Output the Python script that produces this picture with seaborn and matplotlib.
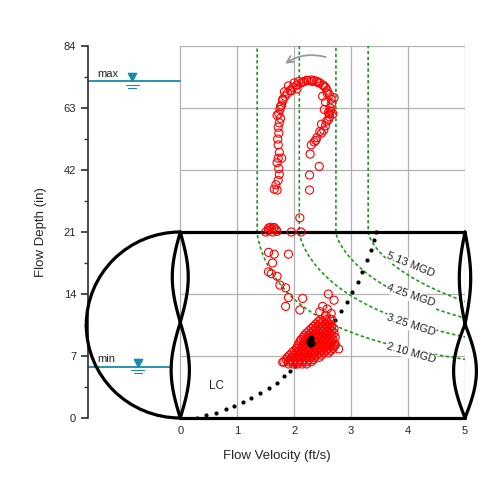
import numpy as np
import pandas as pd
import matplotlib
matplotlib.use("Agg")
import matplotlib.pyplot as plt
import seaborn as sns
from matplotlib.patches import Arc

sns.set_theme(style="white")
plt.rcParams["font.family"] = ["Liberation Sans", "DejaVu Sans"]

# ---- data (velocity ft/s, depth in) ----
hook_v = [1.70, 1.68, 1.72, 1.74, 1.73, 1.70, 1.72, 1.74, 1.72, 1.71, 1.73, 1.72, 1.74, 1.76, 1.73,
          1.75, 1.78, 1.80, 1.84, 1.88, 1.93, 1.98, 2.05, 2.12, 2.18, 2.25, 2.30, 2.35, 2.40, 2.45,
          2.50, 2.55, 2.58, 2.62, 2.65, 2.66, 2.63, 2.60, 2.62, 2.57, 2.55, 2.60, 2.52, 2.48, 2.40,
          2.35, 2.30, 2.28, 2.27, 2.44, 2.27, 2.10, 1.70, 1.76, 1.80, 1.83, 1.90, 2.00, 2.08, 2.15,
          2.22, 2.32, 2.42, 2.52, 2.58, 2.64, 2.55, 2.50, 2.62, 2.45, 2.38, 2.53, 1.65, 1.78, 2.70,
          2.68, 2.48, 1.95, 2.05]
hook_d = [35.2, 37.0, 38.5, 40.5, 42.5, 44.5, 46.0, 48.0, 50.5, 52.5, 54.5, 56.5, 58.0, 59.5, 61.0,
          62.5, 64.0, 65.5, 67.0, 68.0, 69.0, 70.0, 70.8, 71.5, 72.0, 72.3, 72.5, 72.3, 72.0, 71.5,
          70.8, 70.0, 69.0, 67.5, 66.0, 64.5, 63.0, 61.5, 60.0, 58.5, 57.0, 59.0, 55.5, 54.5, 53.0,
          51.5, 50.5, 47.4, 40.3, 43.2, 35.2, 25.8, 60.5, 63.5, 66.0, 68.5, 70.5, 71.5, 72.0, 71.8,
          72.4, 72.0, 71.6, 70.5, 68.0, 62.0, 65.0, 67.0, 61.0, 55.0, 52.0, 62.5, 35.5, 46.0, 66.5,
          61.0, 57.5, 68.8, 69.5]
low_v = [1.50, 1.55, 1.60, 1.65, 1.70, 1.55, 1.62, 1.68, 1.58, 1.64, 1.95, 2.12, 1.55, 1.65, 1.62,
         1.60, 1.55, 1.70, 1.75, 1.85, 1.90, 1.85, 2.15, 2.10, 1.90, 2.60, 2.70, 2.58, 2.65, 2.45,
         2.62, 2.55, 1.80, 2.78, 2.72, 2.50]
low_d = [21.0, 21.5, 22.0, 22.5, 21.2, 22.3, 21.0, 21.8, 22.6, 22.4, 21.0, 21.0, 18.7, 18.5, 17.5,
         16.3, 16.5, 16.0, 15.0, 14.7, 13.6, 12.6, 13.5, 12.2, 18.5, 14.0, 13.3, 12.3, 11.8, 12.0,
         11.2, 11.6, 6.3, 7.8, 8.2, 12.6]
cluster_rows = {
    6.1: [1.90, 1.98, 2.06, 2.14, 2.22],
    6.35: [1.82, 1.90, 1.98, 2.06, 2.14, 2.22, 2.30],
    6.6: [1.86, 1.94, 2.02, 2.10, 2.18, 2.26, 2.34],
    6.85: [1.88, 1.96, 2.04, 2.12, 2.20, 2.28, 2.36, 2.44],
    7.1: [1.92, 2.00, 2.08, 2.16, 2.24, 2.32, 2.40, 2.48],
    7.35: [1.96, 2.04, 2.12, 2.20, 2.28, 2.36, 2.44, 2.52, 2.60],
    7.6: [2.00, 2.08, 2.16, 2.24, 2.32, 2.40, 2.48, 2.56, 2.64],
    7.85: [2.04, 2.12, 2.20, 2.28, 2.36, 2.44, 2.52, 2.60, 2.68],
    8.1: [2.06, 2.14, 2.22, 2.30, 2.38, 2.46, 2.54, 2.62, 2.70],
    8.35: [2.08, 2.16, 2.24, 2.32, 2.40, 2.48, 2.56, 2.64, 2.72],
    8.6: [2.10, 2.18, 2.26, 2.34, 2.42, 2.50, 2.58, 2.66],
    8.85: [2.12, 2.20, 2.28, 2.36, 2.44, 2.52, 2.60, 2.68],
    9.1: [2.16, 2.24, 2.32, 2.40, 2.48, 2.56, 2.64, 2.72],
    9.35: [2.18, 2.26, 2.34, 2.42, 2.50, 2.58, 2.66],
    9.6: [2.22, 2.30, 2.38, 2.46, 2.54, 2.62, 2.70],
    9.85: [2.26, 2.34, 2.42, 2.50, 2.58, 2.66],
    10.1: [2.30, 2.38, 2.46, 2.54, 2.62, 2.70],
    10.35: [2.34, 2.42, 2.50, 2.58, 2.66],
    10.6: [2.38, 2.46, 2.54, 2.62],
    10.85: [2.42, 2.50, 2.58],
    11.1: [2.46, 2.56, 2.66],
}
mean_v = [2.28, 2.32, 2.30, 2.26]
mean_d = [8.3, 8.5, 9.0, 8.7]
lc_v = [0.30, 0.45, 0.62, 0.80, 0.95, 1.10, 1.25, 1.40, 1.55, 1.70, 1.82, 1.92, 2.02, 2.12,
        2.22, 2.32, 2.42, 2.52, 2.62, 2.72, 2.82, 2.92, 3.02, 3.12, 3.20, 3.28, 3.35, 3.40, 3.44]
lc_d = [0.0, 0.3, 0.6, 1.0, 1.4, 1.8, 2.3, 2.8, 3.4, 4.0, 4.7, 5.3, 5.9, 6.5,
        7.2, 7.9, 8.6, 9.4, 10.2, 11.1, 12.1, 13.1, 14.2, 15.3, 16.5, 17.8, 19.0, 20.1, 21.0]
mgd = [2.10, 3.25, 4.25, 5.13]
label_pos = [(4.05, 7.3, -16), (4.05, 10.5, -18), (4.05, 13.8, -19), (4.05, 17.3, -22)]
pipe_d_in = 21.0
y_ticks = [0, 7, 14, 21, 42, 63, 84]
x_ticks = [0, 1, 2, 3, 4, 5]
max_level, min_level = 72.0, 5.8


def ty(d):
    d = np.asarray(d, dtype=float)
    return np.where(d <= 21, d, 21 + (d - 21) / 3.0)


def lens(ax, xc, y0, y1, w):
    t = np.linspace(0, 1, 60)
    y = y0 + (y1 - y0) * t
    bulge = w * np.sin(np.pi * t)
    for sgn in (1, -1):
        ax.plot(xc + sgn * bulge, y, color="black", lw=2.3, clip_on=False, zorder=3)


cl_v = [v for d, vs in cluster_rows.items() for v in vs]
cl_d = [d for d, vs in cluster_rows.items() for v in vs]
pts = pd.DataFrame({"v": hook_v + low_v + cl_v, "d": hook_d + low_d + cl_d})
pts["y"] = ty(pts["d"])

fig = plt.figure(figsize=(5, 5), dpi=100)
ax = fig.add_axes([0.176, 0.164, 0.754, 0.744])
ax.set_xlim(-1.62, 5.0)
ax.set_ylim(0, 42)

# grid
for x in x_ticks:
    ax.plot([x, x], [0, 42], color="#b0b0b0", lw=0.9, zorder=0)
for d in [7, 14, 42, 63, 84]:
    ax.plot([0, 5], [ty(d)] * 2, color="#b0b0b0", lw=0.9, zorder=0)

# iso-flow curves
D = pipe_d_in / 12.0
A_full = np.pi * D ** 2 / 4
dd = np.linspace(0.3, 21, 200)
theta = 2 * np.arccos(1 - 2 * dd / pipe_d_in)
area = D ** 2 / 8 * (theta - np.sin(theta))
for q in mgd:
    cfs = q * 1.547
    vv = np.concatenate([cfs / area, [cfs / A_full, cfs / A_full]])
    yy = np.concatenate([dd, [21, 42]])
    order = np.argsort(yy)
    ax.plot(vv[order], yy[order], ls=(0, (2, 1.5)), color="#1e9a1e", lw=1.2, zorder=1)
for q, (lx, ly, rot) in zip(mgd, label_pos):
    ax.text(lx, ly, f"{q:.2f} MGD", rotation=rot, fontsize=8, ha="center", va="center",
            color="#222", bbox=dict(fc="white", ec="none", pad=0.5), zorder=2)

# pipe outline
ax.plot([0, 5], [21, 21], color="black", lw=2.3, clip_on=False, zorder=3)
ax.plot([0, 5], [0, 0], color="black", lw=2.3, clip_on=False, zorder=3)
ax.add_patch(Arc((0, 10.5), 3.3, 21, theta1=90, theta2=270, color="black", lw=2.3,
                 clip_on=False, zorder=3))
lens(ax, 0, 10.8, 21, 0.14)
lens(ax, 0, 0, 10.8, 0.16)
lens(ax, 5, 10.6, 21, 0.1)
lens(ax, 5, 0, 10.6, 0.2)

# LC curve
ax.scatter(lc_v, lc_d, s=4, color="black", zorder=4)
ax.text(0.5, 3.3, "LC", fontsize=8.5, color="#222")

# observations
sns.scatterplot(data=pts, x="v", y="y", ax=ax, s=34, facecolor="none", edgecolor="red",
                linewidth=0.8, zorder=5, legend=False)
ax.scatter(mean_v, ty(mean_d), s=12, color="black", zorder=6)

# levels
ax.plot([-1.62, 0], [ty(max_level)] * 2, color="#1a8aa8", lw=1.3, zorder=2)
ax.plot([-1.62, -0.15], [min_level] * 2, color="#1a8aa8", lw=1.3, zorder=2)
for xm, yl, lab in [(-0.84, ty(max_level), "max"), (-0.75, min_level, "min")]:
    ax.scatter([xm], [yl + 0.45], marker="v", s=35, color="#1a8aa8", zorder=6)
    ax.plot([xm - 0.12, xm + 0.12], [yl - 0.35] * 2, color="#1a8aa8", lw=0.8)
    ax.plot([xm - 0.07, xm + 0.07], [yl - 0.7] * 2, color="#1a8aa8", lw=0.8)
    ax.text(-1.45, yl + 0.5, lab, fontsize=8, color="#222")

# flow direction arrow
ax.annotate("", xy=(1.8, ty(77.5)), xytext=(2.6, ty(80)),
            arrowprops=dict(arrowstyle="->", color="#999", lw=1.3, connectionstyle="arc3,rad=0.25"))

# axes
for s in ["top", "right", "bottom"]:
    ax.spines[s].set_visible(False)
ax.spines["left"].set_color("#333")
ax.set_yticks(ty(y_ticks))
ax.set_yticklabels([str(t) for t in y_ticks], fontsize=8)
ax.set_yticks(list(np.arange(3.5, 21, 7)) + list(ty(np.arange(31.5, 84, 21))), minor=True)
ax.tick_params(axis="y", which="major", length=5, left=True, color="#333")
ax.tick_params(axis="y", which="minor", length=3, left=True, color="#333")
ax.set_xticks(x_ticks)
ax.set_xticklabels([str(t) for t in x_ticks], fontsize=8)
ax.tick_params(axis="x", length=0, pad=6)
ax.set_xlabel("Flow Velocity (ft/s)", fontsize=9.5, labelpad=10)
ax.set_ylabel("Flow Depth (in)", fontsize=9.5, labelpad=12)

fig.savefig("out.png", dpi=100)
